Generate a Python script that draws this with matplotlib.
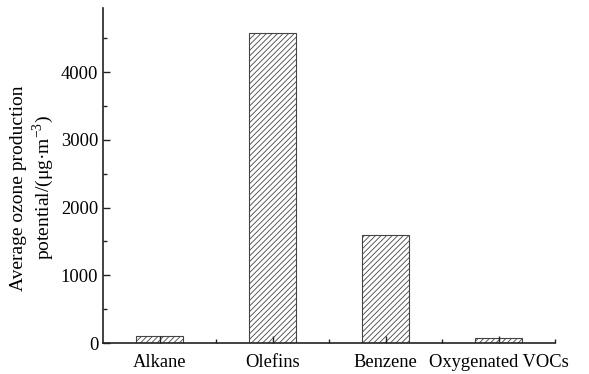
import matplotlib
matplotlib.use("Agg")
import matplotlib.pyplot as plt
from matplotlib.ticker import MultipleLocator, FixedLocator

plt.rcParams['font.family'] = ['Liberation Serif', 'DejaVu Serif']
plt.rcParams['mathtext.fontset'] = 'custom'
plt.rcParams['mathtext.rm'] = 'Liberation Serif'
plt.rcParams['hatch.linewidth'] = 0.6
plt.rcParams['hatch.color'] = '#555555'

categories = ["Alkane", "Olefins", "Benzene", "Oxygenated VOCs"]
values = [100, 4580, 1600, 70]

fig = plt.figure(figsize=(5.89, 3.74), dpi=100)
ax = fig.add_axes([103/589, 1-343/374, (555-103)/589, (343-8)/374])

x = list(range(len(categories)))
ax.bar(x, values, width=0.41, color='white', edgecolor='#444444', linewidth=0.8, hatch='//////')

ax.set_xlim(-0.5, 3.5)
ax.set_ylim(0, 4950)
ax.set_xticks(x)
ax.set_xticklabels(categories, fontsize=13.3)
ax.xaxis.set_minor_locator(FixedLocator([0.5, 1.5, 2.5, 3.5]))
ax.yaxis.set_major_locator(MultipleLocator(1000))
ax.yaxis.set_minor_locator(MultipleLocator(500))
ax.tick_params(axis='both', which='both', direction='in', labelsize=13.3, color='#222222')
ax.tick_params(which='major', length=5, width=1)
ax.tick_params(which='minor', length=3, width=1)
ax.tick_params(axis='x', pad=8)
for s in ['top', 'right']:
    ax.spines[s].set_visible(False)
for s in ['left', 'bottom']:
    ax.spines[s].set_linewidth(1.2)
    ax.spines[s].set_color('#222222')

ax.set_ylabel("Average ozone production\npotential/(μg·m$^{-3}$)", fontsize=14, linespacing=1.2)
ax.yaxis.set_label_coords(-0.104, 0.463)

fig.savefig("out.png", dpi=100)
